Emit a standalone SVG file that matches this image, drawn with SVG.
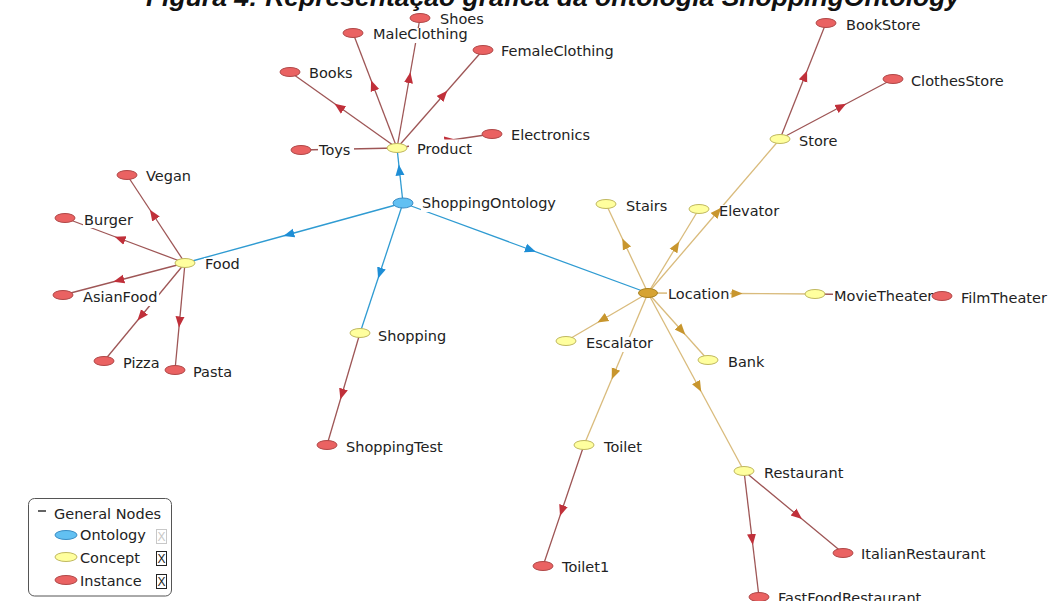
<svg xmlns="http://www.w3.org/2000/svg" width="1048" height="601" viewBox="0 0 1048 601">
<style>
.lbl{font-family:"DejaVu Sans",sans-serif;font-size:14.5px;fill:#222}
.bg{fill:#fff}
.r{fill:#ea6262;stroke:#b04848;stroke-width:1}
.y{fill:#ffff9e;stroke:#c0b860;stroke-width:1}
.b{fill:#62c0f2;stroke:#3a8cc4;stroke-width:1}
.g{fill:#d6a332;stroke:#a8801e;stroke-width:1}
.eo{stroke:#2f9bd2;stroke-width:1.3;fill:none;marker-mid:url(#aB)}
.ei{stroke:#9e5656;stroke-width:1.3;fill:none;marker-mid:url(#aR)}
.ec{stroke:#d9bb7c;stroke-width:1.3;fill:none;marker-mid:url(#aC)}
.chk{fill:#fff;stroke-width:1}
.cx{font-family:"Liberation Sans",sans-serif;font-size:12px;text-anchor:middle}
</style>
<defs>
<marker id="aR" viewBox="0 -6 12 12" refX="0" refY="0" markerWidth="12" markerHeight="12" markerUnits="userSpaceOnUse" orient="auto"><path d="M0,-4.5 L11,0 L0,4.5 z" fill="#c0303a"/></marker>
<marker id="aB" viewBox="0 -6 12 12" refX="0" refY="0" markerWidth="12" markerHeight="12" markerUnits="userSpaceOnUse" orient="auto"><path d="M0,-4.5 L11,0 L0,4.5 z" fill="#1e8ed6"/></marker>
<marker id="aC" viewBox="0 -6 12 12" refX="0" refY="0" markerWidth="12" markerHeight="12" markerUnits="userSpaceOnUse" orient="auto"><path d="M0,-4.5 L11,0 L0,4.5 z" fill="#c8962e"/></marker>
</defs>
<rect width="1048" height="601" fill="#fff"/>
<text x="553" y="6" font-family="Liberation Sans, Arial, sans-serif" font-weight="bold" font-style="italic" font-size="26.5" text-anchor="middle" fill="#111">Figura 4: Representação gráfica da ontologia ShoppingOntology</text>

<g id="connectors">
<path class="eo" d="M403,203 L400,175.5 L397,148"/>
<path class="eo" d="M403,203 L294,233 L185,263"/>
<path class="eo" d="M403,203 L381.5,268 L360,333"/>
<path class="eo" d="M403,203 L525.5,248 L648,293"/>
<path class="ei" d="M397,148 L349,149 L301,150"/>
<path class="ei" d="M397,148 L343.5,110 L290,72"/>
<path class="ei" d="M397,148 L375,90.5 L353,33"/>
<path class="ei" d="M397,148 L408.5,83 L420,18"/>
<path class="ei" d="M397,148 L440,99 L483,50"/>
<path class="ei" d="M397,148 L444.5,141 L492,134"/>
<path class="ei" d="M185,263 L156,219 L127,175"/>
<path class="ei" d="M185,263 L125,240.5 L65,218"/>
<path class="ei" d="M185,263 L124,279 L63,295"/>
<path class="ei" d="M185,263 L144.5,312 L104,361"/>
<path class="ei" d="M185,263 L180,316.5 L175,370"/>
<path class="ei" d="M360,333 L343.5,389 L327,445"/>
<path class="ei" d="M780,139 L803,81 L826,23"/>
<path class="ei" d="M780,139 L836.5,109 L893,79"/>
<path class="ei" d="M815,294 L878.5,295 L942,296"/>
<path class="ei" d="M584,445 L563.5,505.5 L543,566"/>
<path class="ei" d="M744,471 L793.5,512 L843,553"/>
<path class="ei" d="M744,471 L751.5,534 L759,597"/>
<path class="ec" d="M648,293 L627,248.5 L606,204"/>
<path class="ec" d="M648,293 L673.5,251 L699,209"/>
<path class="ec" d="M648,293 L714,216 L780,139"/>
<path class="ec" d="M648,293 L731.5,293.5 L815,294"/>
<path class="ec" d="M648,293 L607,317 L566,341"/>
<path class="ec" d="M648,293 L678,326.5 L708,360"/>
<path class="ec" d="M648,293 L616,369 L584,445"/>
<path class="ec" d="M648,293 L696,382 L744,471"/>
</g>

<g id="ShoppingOntology"><ellipse class="b" cx="403" cy="203" rx="10" ry="5"/><rect class="bg" x="421" y="197" width="136" height="15"/><text class="lbl" x="422" y="208">ShoppingOntology</text></g>
<g id="Product"><ellipse class="y" cx="397" cy="148" rx="10" ry="4.5"/><rect class="bg" x="409" y="139.5" width="64" height="19"/><text class="lbl" x="417" y="154">Product</text></g>
<g id="Toys"><ellipse class="r" cx="301" cy="150" rx="10" ry="4.5"/><rect class="bg" x="318" y="144" width="36" height="15"/><text class="lbl" x="319" y="155">Toys</text></g>
<g id="Books"><ellipse class="r" cx="290" cy="72" rx="10" ry="4.5"/><rect class="bg" x="308" y="67" width="46" height="15"/><text class="lbl" x="309" y="78">Books</text></g>
<g id="MaleClothing"><ellipse class="r" cx="353" cy="33" rx="10" ry="4.5"/><rect class="bg" x="372" y="28" width="97" height="15"/><text class="lbl" x="373" y="39">MaleClothing</text></g>
<g id="Shoes"><ellipse class="r" cx="420" cy="18" rx="10" ry="4.5"/><rect class="bg" x="439" y="13" width="46" height="15"/><text class="lbl" x="440" y="24">Shoes</text></g>
<g id="FemaleClothing"><ellipse class="r" cx="483" cy="50" rx="10" ry="4.5"/><rect class="bg" x="500" y="45" width="116" height="15"/><text class="lbl" x="501" y="56">FemaleClothing</text></g>
<g id="Electronics"><ellipse class="r" cx="492" cy="134" rx="10" ry="4.5"/><rect class="bg" x="510" y="129" width="82" height="15"/><text class="lbl" x="511" y="140">Electronics</text></g>
<g id="Food"><ellipse class="y" cx="185" cy="263" rx="10" ry="4.5"/><rect class="bg" x="204" y="258" width="38" height="15"/><text class="lbl" x="205" y="269">Food</text></g>
<g id="Vegan"><ellipse class="r" cx="127" cy="175" rx="10" ry="4.5"/><rect class="bg" x="145" y="170" width="48" height="15"/><text class="lbl" x="146" y="181">Vegan</text></g>
<g id="Burger"><ellipse class="r" cx="65" cy="218" rx="10" ry="4.5"/><rect class="bg" x="83" y="214" width="51" height="14"/><text class="lbl" x="84" y="225">Burger</text></g>
<g id="AsianFood"><ellipse class="r" cx="63" cy="295" rx="10" ry="4.5"/><rect class="bg" x="82" y="291" width="77" height="15"/><text class="lbl" x="83" y="302">AsianFood</text></g>
<g id="Pizza"><ellipse class="r" cx="104" cy="361" rx="10" ry="4.5"/><rect class="bg" x="122" y="357" width="39" height="15"/><text class="lbl" x="123" y="368">Pizza</text></g>
<g id="Pasta"><ellipse class="r" cx="175" cy="370" rx="10" ry="4.5"/><rect class="bg" x="192" y="366" width="42" height="15"/><text class="lbl" x="193" y="377">Pasta</text></g>
<g id="Shopping"><ellipse class="y" cx="360" cy="333" rx="10" ry="4.5"/><rect class="bg" x="377" y="330" width="70" height="15"/><text class="lbl" x="378" y="341">Shopping</text></g>
<g id="ShoppingTest"><ellipse class="r" cx="327" cy="445" rx="10" ry="4.5"/><rect class="bg" x="345" y="441" width="101" height="15"/><text class="lbl" x="346" y="452">ShoppingTest</text></g>
<g id="Location"><ellipse class="g" cx="648" cy="293" rx="9.5" ry="4.5"/><rect class="bg" x="667" y="288" width="63" height="15"/><text class="lbl" x="668" y="299">Location</text></g>
<g id="Stairs"><ellipse class="y" cx="606" cy="204" rx="10" ry="4.5"/><rect class="bg" x="625" y="200" width="43" height="15"/><text class="lbl" x="626" y="211">Stairs</text></g>
<g id="Elevator"><ellipse class="y" cx="699" cy="209" rx="10" ry="4.5"/><rect class="bg" x="721" y="205" width="59" height="15"/><text class="lbl" x="719" y="216">Elevator</text></g>
<g id="Store"><ellipse class="y" cx="780" cy="139" rx="10" ry="4.5"/><rect class="bg" x="798" y="135" width="41" height="15"/><text class="lbl" x="799" y="146">Store</text></g>
<g id="BookStore"><ellipse class="r" cx="826" cy="23" rx="10" ry="4.5"/><rect class="bg" x="845" y="19" width="77" height="15"/><text class="lbl" x="846" y="30">BookStore</text></g>
<g id="ClothesStore"><ellipse class="r" cx="893" cy="79" rx="10" ry="4.5"/><rect class="bg" x="910" y="75" width="95" height="15"/><text class="lbl" x="911" y="86">ClothesStore</text></g>
<g id="MovieTheater"><ellipse class="y" cx="815" cy="294" rx="10" ry="4.5"/><rect class="bg" x="833" y="290" width="101" height="15"/><text class="lbl" x="834" y="301">MovieTheater</text></g>
<g id="FilmTheater"><ellipse class="r" cx="942" cy="296" rx="10" ry="4.5"/><rect class="bg" x="960" y="292" width="88" height="15"/><text class="lbl" x="961" y="303">FilmTheater</text></g>
<g id="Escalator"><ellipse class="y" cx="566" cy="341" rx="10" ry="4.5"/><rect class="bg" x="585" y="337" width="69" height="15"/><text class="lbl" x="586" y="348">Escalator</text></g>
<g id="Bank"><ellipse class="y" cx="708" cy="360" rx="10" ry="4.5"/><rect class="bg" x="727" y="356" width="38" height="15"/><text class="lbl" x="728" y="367">Bank</text></g>
<g id="Toilet"><ellipse class="y" cx="584" cy="445" rx="10" ry="4.5"/><rect class="bg" x="603" y="441" width="42" height="15"/><text class="lbl" x="604" y="452">Toilet</text></g>
<g id="Toilet1"><ellipse class="r" cx="543" cy="566" rx="10" ry="4.5"/><rect class="bg" x="561" y="561" width="52" height="15"/><text class="lbl" x="562" y="572">Toilet1</text></g>
<g id="Restaurant"><ellipse class="y" cx="744" cy="471" rx="10" ry="4.5"/><rect class="bg" x="763" y="467" width="82" height="15"/><text class="lbl" x="764" y="478">Restaurant</text></g>
<g id="ItalianRestaurant"><ellipse class="r" cx="843" cy="553" rx="10" ry="4.5"/><rect class="bg" x="860" y="548" width="127" height="15"/><text class="lbl" x="861" y="559">ItalianRestaurant</text></g>
<g id="FastFoodRestaurant"><ellipse class="r" cx="759" cy="597" rx="10" ry="4.5"/><rect class="bg" x="777" y="592" width="148" height="15"/><text class="lbl" x="778" y="603">FastFoodRestaurant</text></g>

<g id="legend">
<rect x="28.5" y="498.5" width="143" height="97.5" rx="6" fill="#fff" stroke="#555" stroke-width="1"/>
<line x1="38" y1="511" x2="46" y2="511" stroke="#222" stroke-width="1.4"/>
<text class="lbl" x="54" y="519">General Nodes</text>
<ellipse class="b" cx="66" cy="535" rx="11" ry="4.5"/>
<text class="lbl" x="80" y="540">Ontology</text>
<rect class="chk" x="156.5" y="529.5" width="10" height="14" stroke="#c8c8c8"/>
<text class="cx" x="161.5" y="541" fill="#c8c8c8">X</text>
<ellipse class="y" cx="66" cy="557" rx="11" ry="4.5"/>
<text class="lbl" x="80" y="563">Concept</text>
<rect class="chk" x="156.5" y="551.5" width="10" height="14" stroke="#222"/>
<text class="cx" x="161.5" y="563" fill="#222">X</text>
<ellipse class="r" cx="66" cy="580" rx="11" ry="4.5"/>
<text class="lbl" x="80" y="586">Instance</text>
<rect class="chk" x="156.5" y="574.5" width="10" height="14" stroke="#222"/>
<text class="cx" x="161.5" y="586" fill="#222">X</text>
</g>
</svg>
